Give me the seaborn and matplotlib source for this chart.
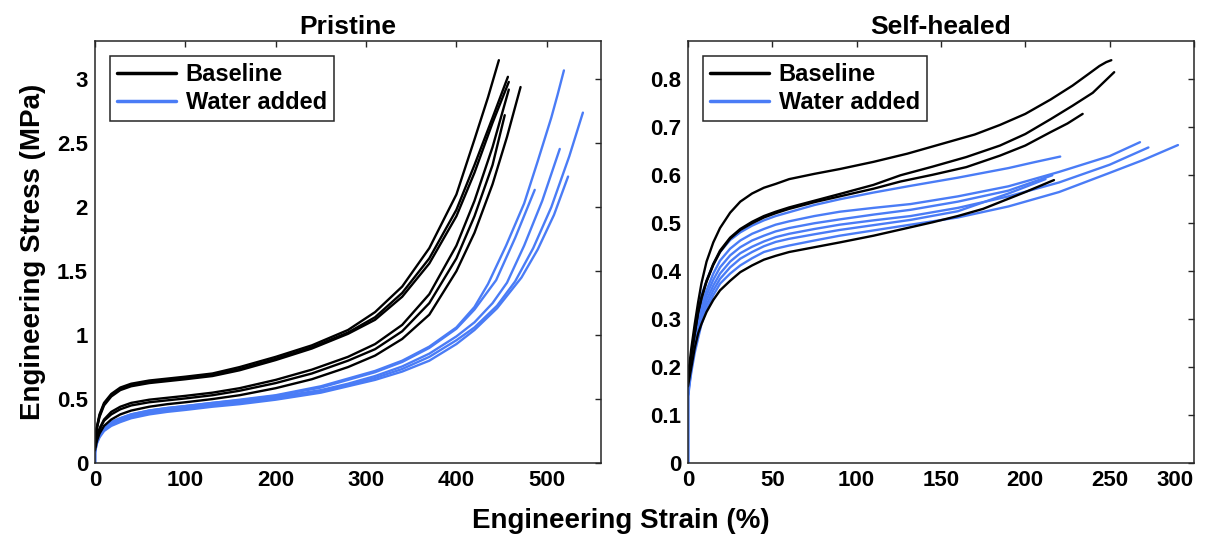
import pandas as pd
import matplotlib
matplotlib.use("Agg")
import matplotlib.pyplot as plt
import seaborn as sns
from matplotlib.lines import Line2D

# --- data (strain in %, stress in MPa) ---
# Pristine, baseline (6 runs)
pristine_base_strain = [
    [0, 2, 5, 10, 18, 28, 40, 60, 80, 100, 130, 160, 200, 240, 280, 310, 340, 370, 400, 420, 435, 447],
    [0, 2, 5, 10, 18, 28, 40, 60, 80, 100, 130, 160, 200, 240, 280, 310, 340, 370, 400, 420, 440, 457],
    [0, 2, 5, 10, 18, 28, 40, 60, 80, 100, 130, 160, 200, 240, 280, 310, 340, 370, 400, 420, 440, 458],
    [0, 2, 5, 10, 18, 28, 40, 60, 80, 100, 130, 160, 200, 240, 280, 310, 340, 370, 400, 420, 440, 458],
    [0, 2, 5, 10, 18, 28, 40, 60, 80, 100, 130, 160, 200, 240, 280, 310, 340, 370, 400, 420, 440, 453.5],
    [0, 2, 5, 10, 18, 28, 40, 60, 80, 100, 130, 160, 200, 240, 280, 310, 340, 370, 400, 420, 440, 456, 471],
]
pristine_base_stress = [
    [0.15, 0.28, 0.38, 0.47, 0.54, 0.59, 0.62, 0.645, 0.66, 0.675, 0.70, 0.75, 0.83, 0.92, 1.04, 1.18, 1.38, 1.68, 2.10, 2.53, 2.86, 3.15],
    [0.15, 0.27, 0.37, 0.46, 0.53, 0.58, 0.61, 0.635, 0.65, 0.665, 0.69, 0.735, 0.815, 0.905, 1.02, 1.14, 1.33, 1.60, 1.98, 2.33, 2.70, 3.02],
    [0.15, 0.27, 0.36, 0.45, 0.52, 0.57, 0.60, 0.625, 0.64, 0.655, 0.68, 0.725, 0.805, 0.895, 1.01, 1.12, 1.30, 1.56, 1.93, 2.27, 2.66, 2.98],
    [0.12, 0.20, 0.27, 0.34, 0.40, 0.44, 0.47, 0.495, 0.51, 0.525, 0.55, 0.585, 0.65, 0.73, 0.83, 0.93, 1.08, 1.32, 1.70, 2.05, 2.47, 2.92],
    [0.12, 0.19, 0.26, 0.33, 0.38, 0.42, 0.45, 0.475, 0.49, 0.505, 0.53, 0.565, 0.625, 0.70, 0.80, 0.89, 1.03, 1.25, 1.60, 1.93, 2.33, 2.72],
    [0.10, 0.17, 0.23, 0.29, 0.34, 0.38, 0.41, 0.44, 0.46, 0.475, 0.50, 0.53, 0.585, 0.655, 0.75, 0.84, 0.97, 1.16, 1.50, 1.80, 2.18, 2.55, 2.94],
]
# Pristine, water added (5 runs)
pristine_water_strain = [
    [0, 0, 2, 5, 10, 18, 28, 40, 60, 80, 100, 130, 160, 200, 250, 280, 310, 340, 370, 400, 420, 435, 455, 475, 490, 505, 512, 519],
    [0, 0, 2, 5, 10, 18, 28, 40, 60, 80, 100, 130, 160, 200, 250, 280, 310, 340, 370, 400, 420, 444, 465, 486.7],
    [0, 0, 2, 5, 10, 18, 28, 40, 60, 80, 100, 130, 160, 200, 250, 280, 310, 340, 370, 400, 420, 440, 456, 475, 495, 514.4],
    [0, 0, 2, 5, 10, 18, 28, 40, 60, 80, 100, 130, 160, 200, 250, 280, 310, 340, 370, 400, 420, 445, 465, 485, 505, 525, 540],
    [0, 0, 2, 5, 10, 18, 28, 40, 60, 80, 100, 130, 160, 200, 250, 280, 310, 340, 370, 400, 420, 445, 472, 490, 508, 523.6],
]
pristine_water_stress = [
    [0, 0.10, 0.18, 0.23, 0.28, 0.32, 0.35, 0.38, 0.41, 0.43, 0.445, 0.47, 0.495, 0.53, 0.60, 0.66, 0.72, 0.80, 0.91, 1.06, 1.22, 1.40, 1.70, 2.03, 2.36, 2.70, 2.88, 3.07],
    [0, 0.10, 0.18, 0.23, 0.28, 0.32, 0.35, 0.38, 0.41, 0.43, 0.445, 0.47, 0.49, 0.525, 0.59, 0.65, 0.71, 0.79, 0.90, 1.05, 1.20, 1.43, 1.76, 2.136],
    [0, 0.09, 0.17, 0.22, 0.27, 0.31, 0.34, 0.37, 0.40, 0.42, 0.435, 0.46, 0.48, 0.515, 0.57, 0.62, 0.68, 0.755, 0.855, 0.99, 1.10, 1.25, 1.41, 1.70, 2.05, 2.456],
    [0, 0.08, 0.16, 0.21, 0.26, 0.30, 0.33, 0.36, 0.39, 0.41, 0.425, 0.45, 0.47, 0.505, 0.56, 0.61, 0.665, 0.735, 0.83, 0.96, 1.06, 1.23, 1.42, 1.68, 2.00, 2.40, 2.74],
    [0, 0.08, 0.15, 0.20, 0.25, 0.29, 0.32, 0.35, 0.38, 0.40, 0.415, 0.44, 0.46, 0.495, 0.55, 0.60, 0.65, 0.715, 0.80, 0.93, 1.04, 1.21, 1.45, 1.67, 1.94, 2.24],
]

# Self-healed, baseline (4 runs)
healed_base_strain = [
    [0, 1, 2, 4, 6, 8, 11, 15, 19, 25, 31, 38, 45, 52, 60, 75, 90, 110, 130, 150, 170, 185, 200, 215, 228, 237, 244, 248, 251],
    [0, 1, 2, 4, 6, 8, 11, 15, 19, 25, 31, 38, 45, 52, 60, 75, 90, 110, 126, 145, 165, 185, 200, 215, 228, 240, 252.7],
    [0, 1, 2, 4, 6, 8, 11, 15, 19, 25, 31, 38, 45, 52, 60, 75, 90, 110, 126, 145, 165, 185, 200, 215, 225, 234],
    [0, 1, 2, 4, 6, 8, 11, 15, 19, 25, 31, 38, 45, 52, 60, 75, 90, 110, 130, 145, 160, 175, 185, 200, 217],
]
healed_base_stress = [
    [0.18, 0.21, 0.24, 0.29, 0.335, 0.375, 0.42, 0.46, 0.49, 0.522, 0.545, 0.562, 0.574, 0.582, 0.592, 0.603, 0.613, 0.628, 0.645, 0.665, 0.685, 0.705, 0.728, 0.758, 0.787, 0.81, 0.828, 0.836, 0.84],
    [0.17, 0.20, 0.225, 0.27, 0.315, 0.345, 0.38, 0.415, 0.443, 0.47, 0.488, 0.503, 0.515, 0.524, 0.533, 0.547, 0.561, 0.58, 0.60, 0.618, 0.638, 0.662, 0.686, 0.717, 0.745, 0.772, 0.815],
    [0.17, 0.20, 0.225, 0.27, 0.313, 0.343, 0.378, 0.413, 0.44, 0.468, 0.486, 0.50, 0.512, 0.521, 0.53, 0.544, 0.556, 0.572, 0.587, 0.601, 0.617, 0.641, 0.662, 0.69, 0.708, 0.728],
    [0.16, 0.18, 0.20, 0.24, 0.27, 0.29, 0.315, 0.34, 0.36, 0.38, 0.398, 0.412, 0.424, 0.432, 0.44, 0.45, 0.46, 0.474, 0.49, 0.502, 0.515, 0.53, 0.544, 0.565, 0.59],
]
# Self-healed, water added (6 runs)
healed_water_strain = [
    [0, 0, 0.5, 1, 2, 4, 6, 8, 11, 15, 19, 25, 31, 38, 45, 52, 60, 75, 90, 110, 132, 160, 190, 205, 220.7],
    [0, 0, 0.5, 1, 2, 4, 6, 8, 11, 15, 19, 25, 31, 38, 45, 52, 60, 75, 90, 110, 132, 160, 190, 220, 250, 268],
    [0, 0, 0.5, 1, 2, 4, 6, 8, 11, 15, 19, 25, 31, 38, 45, 52, 60, 75, 90, 110, 132, 160, 190, 216],
    [0, 0, 0.5, 1, 2, 4, 6, 8, 11, 15, 19, 25, 31, 38, 45, 52, 60, 75, 90, 110, 132, 160, 190, 220, 250, 273],
    [0, 0, 0.5, 1, 2, 4, 6, 8, 11, 15, 19, 25, 31, 38, 45, 52, 60, 75, 90, 110, 132, 160, 190, 212],
    [0, 0, 0.5, 1, 2, 4, 6, 8, 11, 15, 19, 25, 31, 38, 45, 52, 60, 75, 90, 110, 132, 160, 190, 220, 250, 270, 290.5],
]
healed_water_stress = [
    [0, 0.14, 0.17, 0.19, 0.22, 0.28, 0.32, 0.35, 0.38, 0.415, 0.44, 0.465, 0.481, 0.495, 0.506, 0.515, 0.523, 0.538, 0.55, 0.564, 0.578, 0.595, 0.615, 0.627, 0.639],
    [0, 0.14, 0.16, 0.18, 0.21, 0.26, 0.30, 0.33, 0.36, 0.395, 0.422, 0.447, 0.464, 0.478, 0.488, 0.497, 0.504, 0.515, 0.524, 0.532, 0.54, 0.556, 0.577, 0.607, 0.64, 0.669],
    [0, 0.14, 0.16, 0.18, 0.21, 0.255, 0.29, 0.32, 0.35, 0.382, 0.408, 0.433, 0.45, 0.464, 0.474, 0.483, 0.49, 0.50, 0.508, 0.518, 0.528, 0.545, 0.568, 0.60],
    [0, 0.14, 0.16, 0.175, 0.20, 0.245, 0.28, 0.31, 0.34, 0.37, 0.395, 0.42, 0.4375, 0.451, 0.462, 0.471, 0.478, 0.488, 0.497, 0.506, 0.515, 0.532, 0.556, 0.585, 0.622, 0.658],
    [0, 0.14, 0.155, 0.17, 0.195, 0.24, 0.27, 0.30, 0.33, 0.36, 0.384, 0.408, 0.426, 0.44, 0.452, 0.461, 0.4675, 0.477, 0.486, 0.496, 0.507, 0.525, 0.562, 0.592],
    [0, 0.14, 0.15, 0.165, 0.19, 0.23, 0.26, 0.29, 0.32, 0.35, 0.374, 0.395, 0.412, 0.427, 0.44, 0.447, 0.4535, 0.464, 0.474, 0.485, 0.497, 0.512, 0.535, 0.565, 0.605, 0.632, 0.663],
]

BLACK = "#000000"
BLUE = "#4a7cf6"


def to_frame(strains, stresses, group):
    rows = []
    for i, (xs, ys) in enumerate(zip(strains, stresses)):
        for x, y in zip(xs, ys):
            rows.append({"run": f"{group}{i}", "group": group, "strain": x, "stress": y})
    return rows


df_p = pd.DataFrame(to_frame(pristine_base_strain, pristine_base_stress, "Baseline")
                    + to_frame(pristine_water_strain, pristine_water_stress, "Water added"))
df_h = pd.DataFrame(to_frame(healed_base_strain, healed_base_stress, "Baseline")
                    + to_frame(healed_water_strain, healed_water_stress, "Water added"))

sns.set_theme(style="white")
plt.rcParams["font.family"] = ["Liberation Sans", "DejaVu Sans"]
plt.rcParams["font.weight"] = "bold"
plt.rcParams["text.color"] = "black"
plt.rcParams["axes.labelcolor"] = "black"
plt.rcParams["xtick.color"] = "black"
plt.rcParams["ytick.color"] = "black"

fig = plt.figure(figsize=(12.07, 5.36), dpi=100)
ax1 = fig.add_axes([0.0787, 0.1362, 0.4192, 0.7873])
ax2 = fig.add_axes([0.5700, 0.1362, 0.4192, 0.7873])

palette = {"Baseline": BLACK, "Water added": BLUE}
for ax, df in [(ax1, df_p), (ax2, df_h)]:
    # water curves first, black ones on top
    for grp in ["Water added", "Baseline"]:
        sub = df[df["group"] == grp]
        sns.lineplot(data=sub, x="strain", y="stress", units="run", estimator=None,
                     sort=False, color=palette[grp], linewidth=1.7, ax=ax, legend=False)

ax1.set_xlim(0, 560)
ax1.set_ylim(0, 3.3)
ax1.set_xticks([0, 100, 200, 300, 400, 500])
ax1.set_yticks([0, 0.5, 1, 1.5, 2, 2.5, 3])
ax1.set_yticklabels(["0", "0.5", "1", "1.5", "2", "2.5", "3"])
ax2.set_xlim(0, 300)
ax2.set_ylim(0, 0.88)
ax2.set_xticks([0, 50, 100, 150, 200, 250, 300])
ax2.set_yticks([0, 0.1, 0.2, 0.3, 0.4, 0.5, 0.6, 0.7, 0.8])
ax2.set_yticklabels(["0", "0.1", "0.2", "0.3", "0.4", "0.5", "0.6", "0.7", "0.8"])

for ax, title in [(ax1, "Pristine"), (ax2, "Self-healed")]:
    ax.set_title(title, fontsize=19, fontweight="bold", pad=5, color="black")
    ax.set_xlabel("")
    ax.set_ylabel("")
    for sp in ax.spines.values():
        sp.set_color("#262626")
        sp.set_linewidth(1.1)
    ax.tick_params(direction="in", length=4.5, width=1.0, top=True, right=True,
                   labelsize=16, pad=5, color="#262626", labelcolor="black")
    for lab in ax.get_xticklabels() + ax.get_yticklabels():
        lab.set_fontweight("bold")
    handles = [Line2D([], [], color=BLACK, lw=2.5, label="Baseline"),
               Line2D([], [], color=BLUE, lw=2.5, label="Water added")]
    leg = ax.legend(handles=handles, loc="upper left", bbox_to_anchor=(0.0296, 0.9645),
                    borderaxespad=0, fancybox=False, framealpha=1, edgecolor="#262626",
                    prop={"size": 17, "weight": "bold"}, handlelength=2.5,
                    handletextpad=0.4, borderpad=0.3, labelspacing=0.2)
    leg.get_frame().set_linewidth(1.1)

# last label of the right panel sits inside the figure edge, as in the reference
ax2.get_xticklabels()[-1].set_horizontalalignment("right")

ax1.set_ylabel("Engineering Stress (MPa)", fontsize=20, fontweight="bold", labelpad=8)
fig.text(0.514, 0.028, "Engineering Strain (%)", ha="center", va="center",
         fontsize=20, fontweight="bold")

fig.savefig("out.png", dpi=100, facecolor="white")
